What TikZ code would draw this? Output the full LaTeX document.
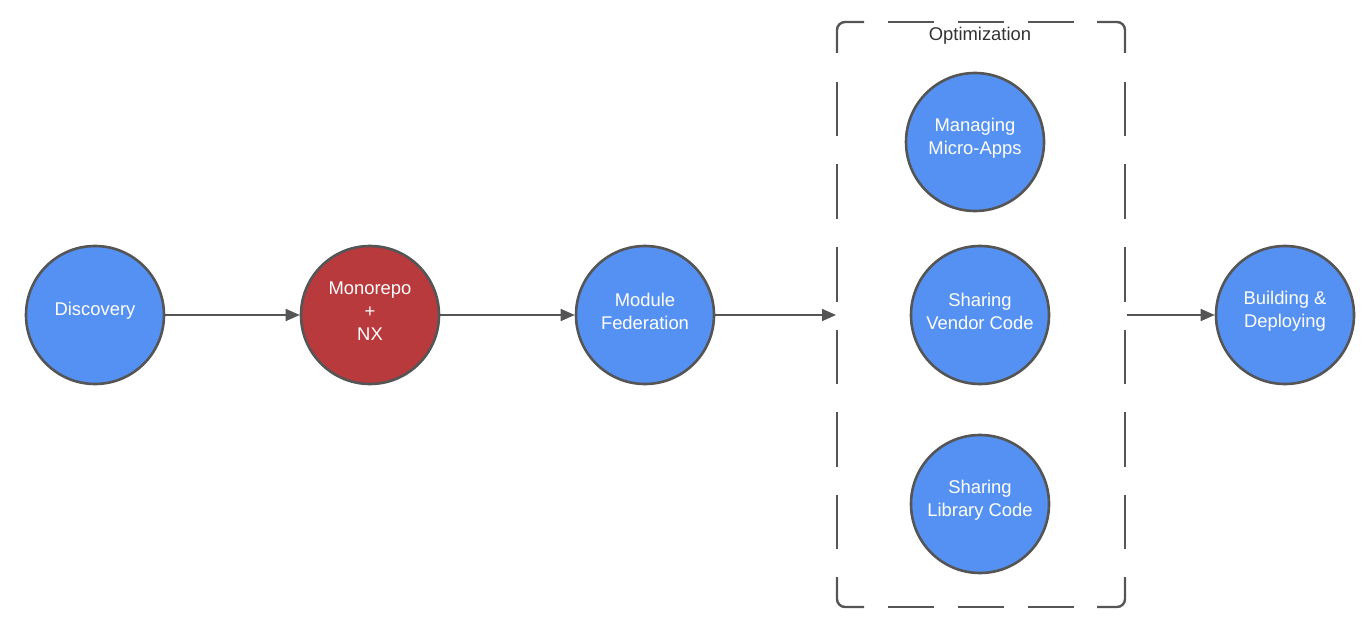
\documentclass[tikz,border=0pt]{standalone}
\usepackage{fontspec}
\setmainfont{Liberation Sans}
\usetikzlibrary{arrows.meta}
\definecolor{nodeblue}{HTML}{5591F2}
\definecolor{nodered}{HTML}{B83A3D}
\definecolor{edge}{HTML}{555555}
\definecolor{txt}{HTML}{333333}
\tikzset{
  stagetext/.style={text=white, font=\fontsize{9.2}{11.5}\selectfont, align=center, inner sep=0pt},
  stage/.style={circle, draw=edge, line width=1.3pt, fill=nodeblue, minimum size=69pt, inner sep=0pt,
    label={[stagetext, yshift=2pt]center:#1}},
  redstage/.style={stage={#1}, fill=nodered},
  flow/.style={draw=edge, line width=0.8pt, -{Triangle[length=7pt,width=6pt]}},
  boxline/.style={draw=edge, line width=1.2pt, rounded corners=4pt},
  vdash/.style={boxline, dash pattern=on 27.25pt off 14pt},
  hdash/.style={boxline, dash pattern=on 23pt off 12pt}
}
\begin{document}
\begin{tikzpicture}[x=0.5pt,y=-0.5pt]
\useasboundingbox (0,0) rectangle (1370,636);
% dashed group box: corners and dashes
\draw[boxline] (837,53) |- (864,22);
\draw[boxline] (1097,22) -| (1125,53);
\draw[boxline] (837,577) |- (864,607);
\draw[boxline] (1097,607) -| (1125,577);
\draw[hdash] (888,22) -- (1074,22);
\draw[hdash] (888,607) -- (1074,607);
\draw[vdash] (837,82) -- (837,549);
\draw[vdash] (1125,82) -- (1125,549);
\node[font=\fontsize{9.2}{11}\selectfont, text=txt] (opt) at (980,36) {Optimization};
\coordinate (boxin) at (836,315);
\coordinate (boxout) at (1127,315);
\node[stage={Discovery}] (disc) at (95,315) {};
\node[redstage={Monorepo\\+\\NX}] (mono) at (370,315) {};
\node[stage={Module\\Federation}] (modfed) at (645,315) {};
\node[stage={Managing\\Micro-Apps}] (micro) at (975,142) {};
\node[stage={Sharing\\Vendor Code}] (vendor) at (980,315) {};
\node[stage={Sharing\\Library Code}] (lib) at (980,504) {};
\node[stage={Building \&\\Deploying}] (build) at (1285,315) {};
\draw[flow] (disc) -- (mono);
\draw[flow] (mono) -- (modfed);
\draw[flow] (modfed) -- (boxin);
\draw[flow] (boxout) -- (build);
\end{tikzpicture}
\end{document}
